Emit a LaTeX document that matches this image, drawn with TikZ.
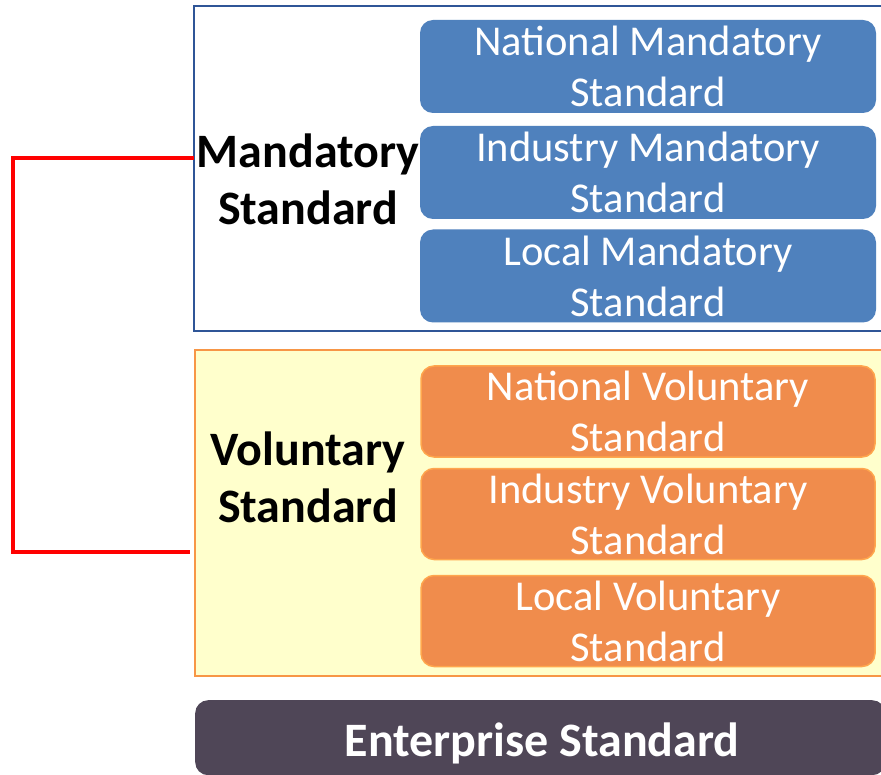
\documentclass[tikz,border=0pt]{standalone}
\usepackage{fontspec}
\setmainfont{Carlito}
\usepackage{tikz}
\definecolor{mandblue}{HTML}{4F81BD}
\definecolor{mandedge}{HTML}{2F5597}
\definecolor{volfill}{HTML}{FFFFCC}
\definecolor{voledge}{HTML}{F79646}
\definecolor{volbox}{HTML}{F08C4C}
\definecolor{voltrim}{HTML}{FFA64D}
\definecolor{entfill}{HTML}{4F4657}

\begin{document}
\begin{tikzpicture}[x=1pt,y=-1pt,
  mandbox/.style={fill=mandblue,rounded corners=13pt,minimum width=456pt,minimum height=93pt,text=white,align=center,font=\fontsize{42.5}{51}\selectfont,inner sep=0pt},
  volitem/.style={fill=volbox,draw=voltrim,line width=1.5pt,rounded corners=13pt,minimum width=454pt,minimum height=91pt,text=white,align=center,font=\fontsize{42.5}{51}\selectfont,inner sep=0pt},
  grouplabel/.style={align=center,font=\fontsize{48}{57}\selectfont\bfseries}]
\useasboundingbox (0,0) rectangle (881,775);
% outer groups
\draw[mandedge,line width=2pt,fill=white] (194,6) rectangle (900,331);
\draw[voledge,line width=2pt,fill=volfill] (195,350) rectangle (900,676);
\node[fill=entfill,rounded corners=13pt,minimum width=690pt,minimum height=75pt,anchor=north west] (ent) at (195,700) {};
\node[text=white,font=\fontsize{48}{56}\selectfont\bfseries] (entlabel) at (542,743) {Enterprise Standard};
% mandatory
\node[mandbox] (nm) at (648,66.5) {National Mandatory\\Standard};
\node[mandbox] (im) at (648,172.5) {Industry Mandatory\\Standard};
\node[mandbox] (lm) at (648,276) {Local Mandatory\\Standard};
\node[grouplabel] (mand) at (308,179.5) {Mandatory\\Standard};
% voluntary
\node[volitem] (nv) at (648,411.5) {National Voluntary\\Standard};
\node[volitem] (iv) at (648,514) {Industry Voluntary\\Standard};
\node[volitem] (lv) at (648,621) {Local Voluntary\\Standard};
\node[grouplabel] (vol) at (308,477) {Voluntary\\Standard};
% bracket
\coordinate (mtip) at (194,158);
\coordinate (vtip) at (190,552);
\draw[red,line width=4pt] (mtip) -- ++(-181,0) |- (vtip);
\end{tikzpicture}
\end{document}
